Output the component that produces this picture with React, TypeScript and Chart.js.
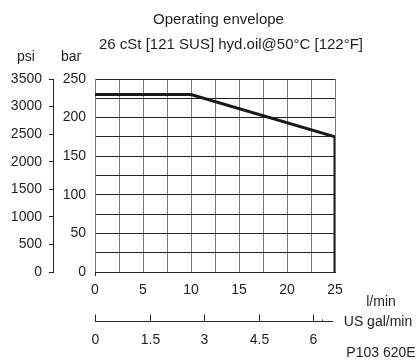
import React, { useEffect, useRef } from "react";
import { Chart, registerables } from "chart.js";

Chart.register(...registerables);

const flowLpm = [0, 10, 25, 25];
const pressureBar = [230, 230, 175, 0];
const galTicks = [0, 1.5, 3, 4.5, 6];
const LPM_PER_GAL = 3.785411784;

const titleText = "Operating envelope";
const subtitleText = "26 cSt [121 SUS] hyd.oil@50°C [122°F]";
const psiLabel = "psi";
const barLabel = "bar";
const lpmLabel = "l/min";
const galLabel = "US gal/min";
const codeLabel = "P103 620E";

const FONT = "'Liberation Sans', Arial, sans-serif";
const TXT = "#1e1e1e";

const textPlugin = {
  id: "extraText",
  afterDraw(chart: any) {
    const ctx = chart.ctx;
    const x = chart.scales.x;
    const area = chart.chartArea;
    ctx.save();
    ctx.fillStyle = TXT;
    ctx.textBaseline = "middle";
    ctx.textAlign = "center";
    ctx.font = `15px ${FONT}`;
    ctx.fillText(titleText, 218.5, 20);
    ctx.fillText(subtitleText, 231, 45);
    ctx.font = `14px ${FONT}`;
    ctx.fillText(psiLabel, 26, 57);
    ctx.fillText(barLabel, 71, 57);
    ctx.fillText(lpmLabel, 381, 302);
    ctx.fillText(galLabel, 378, 322);
    ctx.fillText(codeLabel, 381, 353);

    // US gal/min secondary axis built from the l/min scale
    const axisY = area.bottom + 49.5;
    ctx.strokeStyle = "#222";
    ctx.lineWidth = 1;
    ctx.beginPath();
    ctx.moveTo(x.getPixelForValue(0), axisY);
    ctx.lineTo(x.getPixelForValue(25) - 2, axisY);
    ctx.stroke();
    for (const g of galTicks) {
      const px = Math.round(x.getPixelForValue(g * LPM_PER_GAL)) + 0.5;
      ctx.beginPath();
      ctx.moveTo(px, axisY);
      ctx.lineTo(px, axisY - 7);
      ctx.stroke();
      ctx.fillText(String(g), px, axisY + 18.5);
    }
    const pm = Math.round(x.getPixelForValue(6.25 * LPM_PER_GAL)) + 0.5;
    ctx.beginPath();
    ctx.moveTo(pm, axisY);
    ctx.lineTo(pm, axisY - 2);
    ctx.stroke();
    const p0 = Math.round(x.getPixelForValue(0)) + 0.5;
    ctx.beginPath();
    ctx.moveTo(p0, area.bottom);
    ctx.lineTo(p0, area.bottom + 4);
    ctx.stroke();
    ctx.restore();
  },
};

export default function App() {
  const ref = useRef<HTMLCanvasElement | null>(null);
  useEffect(() => {
    if (!ref.current) return;
    Chart.defaults.font.family = FONT;
    Chart.defaults.font.size = 14;
    Chart.defaults.color = TXT;
    const chart = new Chart(ref.current, {
      type: "scatter",
      data: {
        datasets: [
          {
            data: flowLpm.map((f, i) => ({ x: f, y: pressureBar[i] })),
            showLine: true,
            borderColor: "#1a1a1a",
            borderWidth: 3,
            pointRadius: 0,
            tension: 0,
            borderJoinStyle: "miter",
          },
        ],
      },
      options: {
        animation: false,
        responsive: false,
        maintainAspectRatio: false,
        layout: { padding: { left: 0, right: 82, top: 79, bottom: 0 } },
        plugins: { legend: { display: false }, tooltip: { enabled: false }, title: { display: false } },
        scales: {
          x: {
            type: "linear",
            min: 0,
            max: 25,
            afterFit(s: any) {
              s.height = 89;
            },
            ticks: {
              stepSize: 2.5,
              autoSkip: false,
              maxRotation: 0,
              padding: 10,
              color: TXT,
              font: { size: 14 },
              callback: (v: any) => (Number(v) % 5 === 0 ? String(v) : ""),
            },
            grid: { color: "#777", drawTicks: false, lineWidth: 1 },
            border: { display: true, color: "#222", width: 1 },
          },
          y: {
            type: "linear",
            position: "left",
            weight: 0,
            min: 0,
            max: 250,
            afterFit(s: any) {
              s.width = 42;
            },
            ticks: {
              stepSize: 25,
              autoSkip: false,
              padding: 9,
              color: TXT,
              font: { size: 14 },
              callback: (v: any) => (Number(v) % 50 === 0 ? String(v) : ""),
            },
            grid: { color: "#222", drawTicks: false, lineWidth: 1 },
            border: { display: true, color: "#777", width: 1 },
          },
          psi: {
            type: "linear",
            position: "left",
            weight: 1,
            min: 0,
            max: 3500,
            afterFit(s: any) {
              s.width = 53;
            },
            ticks: {
              stepSize: 500,
              autoSkip: false,
              padding: 7,
              color: TXT,
              font: { size: 14 },
              callback: (v: any) => String(v),
            },
            grid: { drawOnChartArea: false, drawTicks: true, tickLength: 4, color: "#222" },
            border: { display: true, color: "#222", width: 1 },
          },
        },
      } as any,
      plugins: [textPlugin],
    });
    return () => chart.destroy();
  }, []);
  return (
    <div style={{ position: "fixed", left: 0, top: 0, width: 417, height: 361, background: "#fff" }}>
      <canvas ref={ref} width={417} height={361} style={{ display: "block" }} />
    </div>
  );
}
